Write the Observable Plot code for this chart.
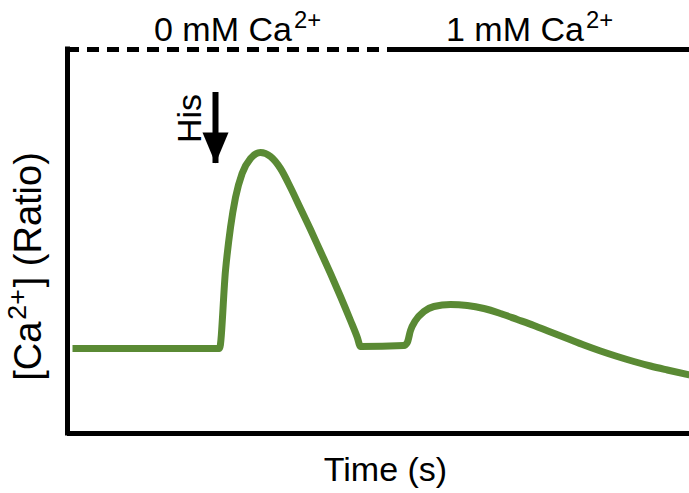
<!DOCTYPE html>
<html><head><meta charset="utf-8">
<script src="https://cdn.jsdelivr.net/npm/d3@7"></script>
<script src="https://cdn.jsdelivr.net/npm/@observablehq/plot@0.6"></script>
<style>html,body{margin:0;padding:0;background:#fff} #chart svg{display:block}</style>
</head><body><div id="chart"></div>
<script>
// Trace: time (s) and fluorescence ratio
const timeS = [2.5, 76, 79, 81.5, 84, 87.3, 91.5, 96.5, 101.5, 106.5, 111.5, 116.5, 121.5, 126.5, 131.5, 136.5, 141.5, 144.9, 146.5, 168.2, 169.9, 171.5, 174, 178.2, 183.2, 191.5, 199.9, 208.2, 216.5, 224.9, 233.2, 241.5, 249.9, 258.2, 266.5, 274.9, 283.2, 291.5, 299.9, 311];
const ratio = [0.85, 0.85, 1.63, 2.06, 2.36, 2.60, 2.75, 2.81, 2.77, 2.65, 2.46, 2.25, 2.04, 1.82, 1.60, 1.37, 1.13, 0.96, 0.87, 0.88, 0.91, 1.03, 1.13, 1.22, 1.27, 1.29, 1.28, 1.25, 1.20, 1.14, 1.08, 1.015, 0.95, 0.885, 0.825, 0.77, 0.72, 0.675, 0.635, 0.585];

// Bath conditions
const conditionLabels = ["0 mM Ca^{2+}", "1 mM Ca^{2+}"];
const conditionCa = [0, 1];
const conditionStart = [0, 165];
const conditionEnd = [165, 311];
const conditionLabelTime = [85, 231];

// Stimulus
const stimulusLabel = "His";
const stimulusTime = 74;
const arrowTop = 3.41;
const arrowTip = 2.70;

// Axis labels
const xLabel = "Time (s)";
const yLabel = "[Ca^{2+}] (Ratio)";
const xMax = 311, yMax = 3.84;

const trace = timeS.map((t, i) => ({time: t, ratio: ratio[i]}));
const conditions = conditionLabels.map((label, i) => ({label, ca: conditionCa[i], start: conditionStart[i], end: conditionEnd[i], labelTime: conditionLabelTime[i]}));

const downTriangle = {draw(ctx) { ctx.moveTo(-13, -31); ctx.lineTo(13, -31); ctx.lineTo(0, 0); ctx.closePath(); }};

const chart = Plot.plot({
  width: 689, height: 493,
  marginLeft: 67, marginRight: 0, marginTop: 49, marginBottom: 60,
  x: {domain: [0, xMax], axis: null},
  y: {domain: [0, yMax], axis: null},
  style: {fontFamily: "'Liberation Sans', Arial, sans-serif", fontSize: "34px", background: "white", color: "black"},
  marks: [
    Plot.ruleX([0], {y1: 0, y2: yMax, stroke: "black", strokeWidth: 5, strokeLinecap: "square"}),
    Plot.ruleY([0], {x1: 0, x2: xMax, stroke: "black", strokeWidth: 5}),
    Plot.ruleY(conditions.filter(d => d.ca === 0), {y: yMax, x1: "start", x2: "end", stroke: "black", strokeWidth: 5, strokeDasharray: "12,8"}),
    Plot.ruleY(conditions.filter(d => d.ca > 0), {y: yMax, x1: "start", x2: "end", stroke: "black", strokeWidth: 5}),
    Plot.text(conditions, {x: "labelTime", y: yMax, text: "label", fontSize: 34, lineAnchor: "middle", dy: -19}),
    Plot.line(trace, {x: "time", y: "ratio", stroke: "#5a8a34", strokeWidth: 7, curve: "monotone-x", strokeLinecap: "butt", strokeLinejoin: "miter", strokeMiterlimit: 4}),
    Plot.ruleX([stimulusTime], {x: d => d, y1: arrowTop, y2: arrowTip, stroke: "black", strokeWidth: 6, strokeLinecap: "butt"}),
    Plot.dot([stimulusTime], {x: d => d, y: arrowTip, symbol: downTriangle, fill: "black", stroke: "none", r: 10}),
    Plot.text([stimulusLabel], {x: () => stimulusTime, y: arrowTop, text: d => d, rotate: -90, fontSize: 34, lineAnchor: "middle", dx: -25, dy: 26}),
    Plot.text([yLabel], {frameAnchor: "left", text: d => d, rotate: -90, fontSize: 38, textAnchor: "middle", lineAnchor: "middle", dx: -39, dy: 25}),
    Plot.text([xLabel], {frameAnchor: "bottom", text: d => d, fontSize: 34, textAnchor: "middle", lineAnchor: "middle", dx: 7, dy: 37})
  ]
});

// superscripts
d3.select(chart).selectAll("text").each(function() {
  const s = this.textContent;
  if (!s.includes("^{")) return;
  const parts = s.split(/\^\{([^}]*)\}/);
  this.textContent = "";
  const sel = d3.select(this);
  parts.forEach((p, i) => {
    if (!p) return;
    const t = sel.append("tspan").text(p);
    if (i % 2 === 1) t.attr("font-size", "0.7em").attr("dy", "-0.55em").attr("dx", 2);
    else if (i > 0) t.attr("dy", "0.385em").attr("dx", 2);
  });
});

document.getElementById("chart").appendChild(chart);
</script>
</body></html>
